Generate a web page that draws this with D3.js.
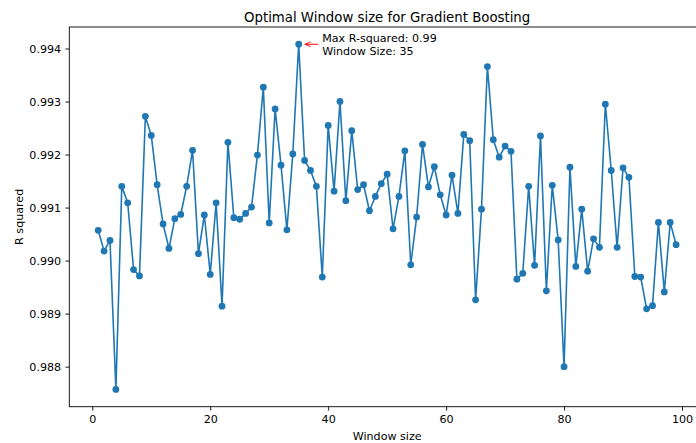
<!DOCTYPE html>
<html>
<head>
<meta charset="utf-8">
<script src="https://cdn.jsdelivr.net/npm/d3@7"></script>
<style>
  body { margin: 0; background: #fff; }
  svg { display: block; font-family: "DejaVu Sans", sans-serif; }
  .tick text { font-size: 11.1px; fill: #000; }
  .tick line { stroke: #000; stroke-width: 0.9; }
</style>
</head>
<body>
<div id="chart"></div>
<script>
// window sizes 1..99 and the R squared
const windowSizes = [
   1,  2,  3,  4,  5,  6,  7,  8,  9, 10, 11, 12, 13, 14, 15, 16, 17, 18, 19, 20,
  21, 22, 23, 24, 25, 26, 27, 28, 29, 30, 31, 32, 33, 34, 35, 36, 37, 38, 39, 40,
  41, 42, 43, 44, 45, 46, 47, 48, 49, 50, 51, 52, 53, 54, 55, 56, 57, 58, 59, 60,
  61, 62, 63, 64, 65, 66, 67, 68, 69, 70, 71, 72, 73, 74, 75, 76, 77, 78, 79, 80,
  81, 82, 83, 84, 85, 86, 87, 88, 89, 90, 91, 92, 93, 94, 95, 96, 97, 98, 99
];
const rSquared = [
  0.99057, 0.99018, 0.99038, 0.98757, 0.99140, 0.99109, 0.98983, 0.98971, 0.99272, 0.99236,
  0.99143, 0.99069, 0.99023, 0.99079, 0.99087, 0.99140, 0.99208, 0.99013, 0.99086, 0.98974,
  0.99109, 0.98914, 0.99223, 0.99081, 0.99078, 0.99089, 0.99101, 0.99199, 0.99327, 0.99071,
  0.99286, 0.99180, 0.99058, 0.99201, 0.99408, 0.99189, 0.99170, 0.99140, 0.98969, 0.99255,
  0.99131, 0.99300, 0.99113, 0.99245, 0.99134, 0.99143, 0.99094, 0.99121, 0.99145, 0.99163,
  0.99060, 0.99121, 0.99207, 0.98992, 0.99082, 0.99219, 0.99139, 0.99177, 0.99124, 0.99086,
  0.99161, 0.99089, 0.99238, 0.99226, 0.98926, 0.99097, 0.99366, 0.99228, 0.99195, 0.99216,
  0.99206, 0.98965, 0.98976, 0.99140, 0.98991, 0.99235, 0.98943, 0.99142, 0.99039, 0.98800,
  0.99176, 0.98989, 0.99097, 0.98980, 0.99041, 0.99025, 0.99295, 0.99170, 0.99025, 0.99175,
  0.99157, 0.98970, 0.98969, 0.98909, 0.98915, 0.99072, 0.98941, 0.99072, 0.99030
];
const xTicks = [0, 20, 40, 60, 80, 100];
const yTicks = [0.988, 0.989, 0.990, 0.991, 0.992, 0.993, 0.994];

const width = 696, height = 443;
const plotLeft = 69.3, plotRight = 705, plotTop = 27, plotBottom = 406.7;

const svg = d3.select("#chart").append("svg")
    .attr("width", width)
    .attr("height", height);

// matplotlib style 5% margins
const xMin = d3.min(windowSizes), xMax = d3.max(windowSizes);
const yMin = d3.min(rSquared), yMax = d3.max(rSquared);
const xPad = (xMax - xMin) * 0.05, yPad = (yMax - yMin) * 0.05;

const x = d3.scaleLinear().domain([xMin - xPad, xMax + xPad]).range([plotLeft, plotRight]);
const y = d3.scaleLinear().domain([yMin - yPad, yMax + yPad]).range([plotBottom, plotTop]);

svg.append("g")
    .attr("transform", `translate(0,${plotBottom})`)
    .call(d3.axisBottom(x).tickValues(xTicks).tickFormat(d3.format("d"))
        .tickSize(3.9).tickPadding(4.8).tickSizeOuter(0))
    .call(g => g.select(".domain").remove());

svg.append("g")
    .attr("transform", `translate(${plotLeft},0)`)
    .call(d3.axisLeft(y).tickValues(yTicks).tickFormat(d3.format(".3f"))
        .tickSize(3.9).tickPadding(4.3).tickSizeOuter(0))
    .call(g => g.select(".domain").remove());

svg.selectAll(".tick text").attr("font-family", "DejaVu Sans");

const points = windowSizes.map((w, i) => [w, rSquared[i]]);

svg.append("path")
    .datum(points)
    .attr("fill", "none")
    .attr("stroke", "#1f77b4")
    .attr("stroke-width", 1.6)
    .attr("stroke-linejoin", "round")
    .attr("d", d3.line().x(d => x(d[0])).y(d => y(d[1])));

svg.append("g")
    .selectAll("circle")
    .data(points)
    .join("circle")
    .attr("cx", d => x(d[0]))
    .attr("cy", d => y(d[1]))
    .attr("r", 3.4)
    .attr("fill", "#1f77b4");

// frame
svg.append("rect")
    .attr("x", plotLeft)
    .attr("y", plotTop)
    .attr("width", plotRight - plotLeft)
    .attr("height", plotBottom - plotTop)
    .attr("fill", "none")
    .attr("stroke", "#000")
    .attr("stroke-width", 0.9);

// annotation for the best window
const best = d3.maxIndex(rSquared);
const bx = x(windowSizes[best]), by = y(rSquared[best]);

svg.append("defs").append("marker")
    .attr("id", "head")
    .attr("viewBox", "0 0 10 10")
    .attr("refX", 10)
    .attr("refY", 5)
    .attr("markerWidth", 6)
    .attr("markerHeight", 6)
    .attr("orient", "auto")
    .append("path")
    .attr("d", "M0,1 L10,5 L0,9")
    .attr("fill", "none")
    .attr("stroke", "red")
    .attr("stroke-width", 1.5);

svg.append("line")
    .attr("x1", bx + 19.5)
    .attr("y1", by)
    .attr("x2", bx + 6)
    .attr("y2", by)
    .attr("stroke", "red")
    .attr("stroke-width", 1)
    .attr("marker-end", "url(#head)");

const note = svg.append("text")
    .attr("x", bx + 23.5)
    .attr("y", by - 2)
    .style("font-size", "11.1px");
note.append("tspan").attr("x", bx + 23.5).text("Max R-squared: " + rSquared[best].toFixed(2));
note.append("tspan").attr("x", bx + 23.5).attr("dy", 13).text("Window Size: " + windowSizes[best]);

// titles
svg.append("text")
    .attr("x", (plotLeft + plotRight) / 2)
    .attr("y", 21.7)
    .attr("text-anchor", "middle")
    .style("font-size", "13.3px")
    .text("Optimal Window size for Gradient Boosting");

svg.append("text")
    .attr("x", (plotLeft + plotRight) / 2)
    .attr("y", 440)
    .attr("text-anchor", "middle")
    .style("font-size", "11.1px")
    .text("Window size");

svg.append("text")
    .attr("transform", `translate(22.5,${(plotTop + plotBottom) / 2}) rotate(-90)`)
    .attr("text-anchor", "middle")
    .style("font-size", "11.1px")
    .text("R squared");
</script>
</body>
</html>
